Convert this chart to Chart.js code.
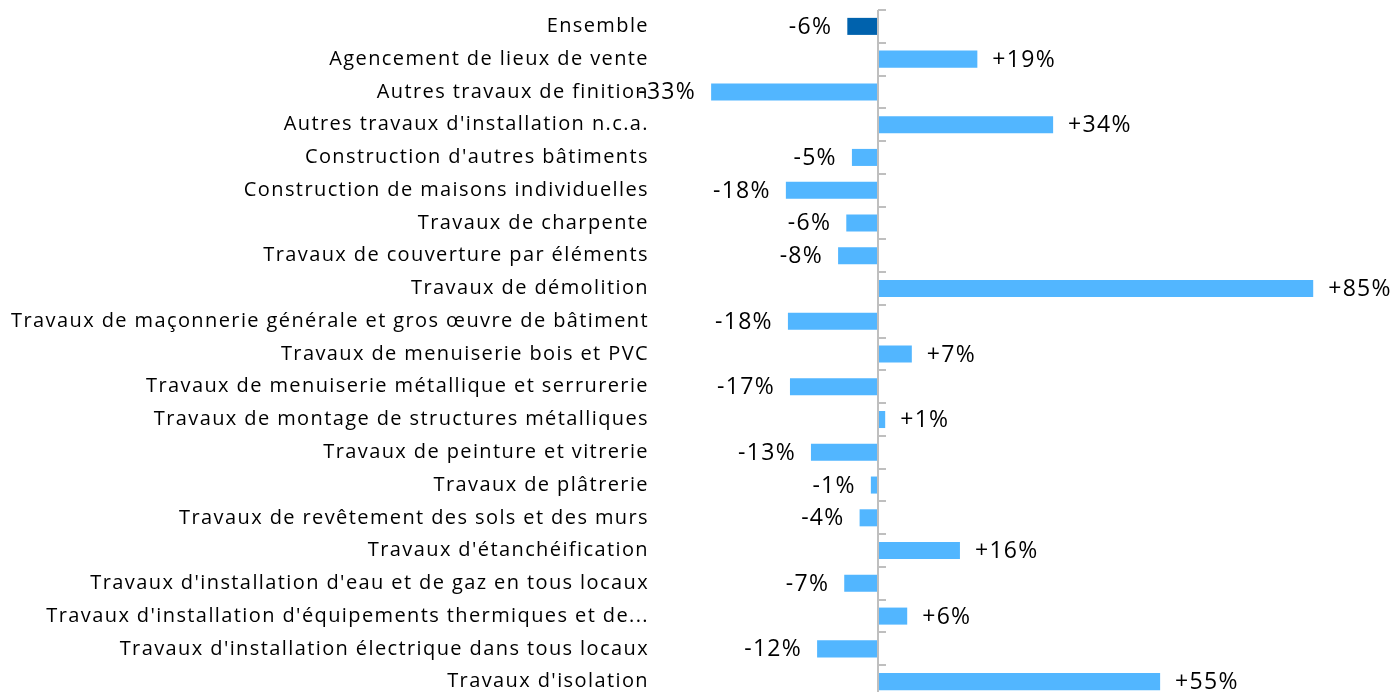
<!DOCTYPE html>
<html lang="fr">
<head>
    <meta charset="UTF-8">
    <title>Évolution par activité</title>
    <script src="https://cdn.jsdelivr.net/npm/chart.js"></script>
    <style>
        html, body {
            margin: 0;
            padding: 0;
            background: #fff;
            overflow: hidden;
        }
        #wrap {
            position: relative;
            width: 1398px;
            height: 740px;
        }
    </style>
</head>
<body>
    <div id="wrap">
        <canvas id="chart"></canvas>
    </div>

    <script>
        const categories = [
            'Ensemble',
            'Agencement de lieux de vente',
            'Autres travaux de finition',
            "Autres travaux d'installation n.c.a.",
            "Construction d'autres bâtiments",
            'Construction de maisons individuelles',
            'Travaux de charpente',
            'Travaux de couverture par éléments',
            'Travaux de démolition',
            'Travaux de maçonnerie générale et gros œuvre de bâtiment',
            'Travaux de menuiserie bois et PVC',
            'Travaux de menuiserie métallique et serrurerie',
            'Travaux de montage de structures métalliques',
            'Travaux de peinture et vitrerie',
            'Travaux de plâtrerie',
            'Travaux de revêtement des sols et des murs',
            "Travaux d'étanchéification",
            "Travaux d'installation d'eau et de gaz en tous locaux",
            "Travaux d'installation d'équipements thermiques et de...",
            "Travaux d'installation électrique dans tous locaux",
            "Travaux d'isolation"
        ];
        const variations = [
            -6.0, 19.4, -32.6, 34.2, -5.1, -18.0, -6.2, -7.8, 85.0, -17.6,
            6.6, -17.2, 1.4, -13.1, -1.4, -3.6, 16.0, -6.6, 5.7, -11.9, 55.1
        ];

        const darkBlue = '#0062ad';
        const lightBlue = '#52b6ff';
        const axisGrey = '#bfbfbf';

        const fmt = v => (v >= 0 ? '+' : '-') + Math.round(Math.abs(v)) + '%';

        // the source text is spaced out a bit, canvas default is tighter
        const spacing = {
            id: 'spacing',
            beforeDraw(chart) {
                chart.ctx.letterSpacing = '1.4px';
            }
        };

        // vertical zero line with small ticks between categories
        const zeroAxis = {
            id: 'zeroAxis',
            afterDatasetsDraw(chart) {
                const { ctx, chartArea, scales } = chart;
                const x0 = Math.round(scales.x.getPixelForValue(0));
                const step = (chartArea.bottom - chartArea.top) / categories.length;
                ctx.save();
                ctx.strokeStyle = axisGrey;
                ctx.lineWidth = 2;
                ctx.beginPath();
                ctx.moveTo(x0, chartArea.top);
                ctx.lineTo(x0, chartArea.bottom);
                for (let i = 0; i <= categories.length; i++) {
                    const y = Math.round(chartArea.top + i * step);
                    ctx.moveTo(x0, y);
                    ctx.lineTo(x0 + 8, y);
                }
                ctx.stroke();
                ctx.restore();
            }
        };

        const valueLabels = {
            id: 'valueLabels',
            afterDatasetsDraw(chart) {
                const { ctx } = chart;
                const meta = chart.getDatasetMeta(0);
                ctx.save();
                ctx.font = '23px "Open Sans"';
                ctx.letterSpacing = '1.3px';
                ctx.fillStyle = '#000';
                ctx.textBaseline = 'middle';
                meta.data.forEach((bar, i) => {
                    const v = variations[i];
                    if (v < 0) {
                        ctx.textAlign = 'right';
                        ctx.fillText(fmt(v), bar.x - 15, bar.y + 1);
                    } else {
                        ctx.textAlign = 'left';
                        ctx.fillText(fmt(v), bar.x + 15, bar.y + 1);
                    }
                });
                ctx.restore();
            }
        };

        new Chart(document.getElementById('chart'), {
            type: 'bar',
            data: {
                labels: categories,
                datasets: [{
                    data: variations,
                    backgroundColor: variations.map((v, i) => i === 0 ? darkBlue : lightBlue),
                    borderWidth: 0,
                    barPercentage: 0.52,
                    categoryPercentage: 1
                }]
            },
            options: {
                indexAxis: 'y',
                responsive: true,
                maintainAspectRatio: false,
                animation: false,
                layout: { padding: { top: 10, bottom: 42, right: 8 } },
                plugins: {
                    legend: { display: false },
                    tooltip: { enabled: false }
                },
                scales: {
                    x: {
                        display: false,
                        min: -42,
                        max: 100
                    },
                    y: {
                        afterFit(scale) {
                            scale.width = 663;
                            scale.paddingTop = 0;
                            scale.paddingBottom = 0;
                        },
                        grid: { display: false, drawTicks: false },
                        border: { display: false },
                        ticks: {
                            padding: 14,
                            color: '#000',
                            font: { family: 'Open Sans', size: 20 },
                            autoSkip: false
                        }
                    }
                }
            },
            plugins: [spacing, zeroAxis, valueLabels]
        });
    </script>
</body>
</html>
